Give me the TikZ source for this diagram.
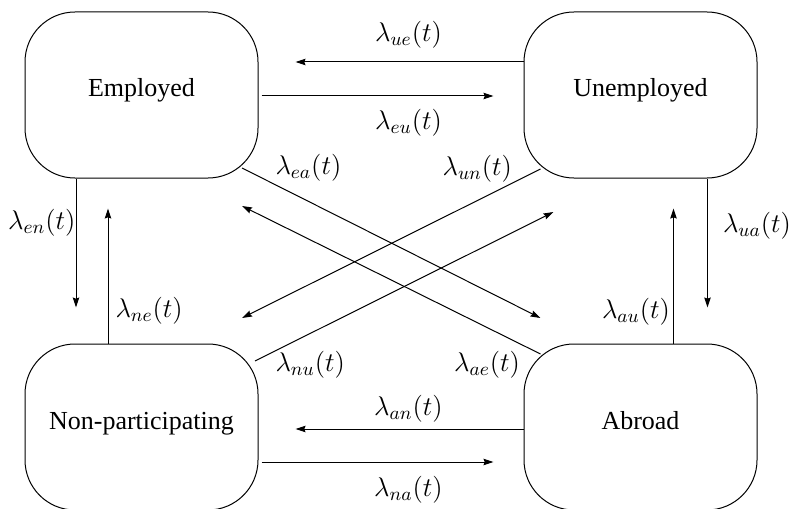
\documentclass[tikz,border=0pt]{standalone}
\usepackage{fix-cm}
\usepackage{fontspec}
\setmainfont{Liberation Serif}
\usepackage{tikz}
\usetikzlibrary{arrows.meta, positioning}
\tikzstyle{arrow} = [line width=0.5pt, -{Stealth[length=5pt, width=3.2pt, inset=0.6pt]}]

\begin{document}
\begin{tikzpicture}[
  x=0.5pt, y=-0.5pt,
  node distance=82.5pt and 132.5pt,
  state/.style={rectangle, draw=black, line width=0.5pt, rounded corners=25pt, minimum width=116.5pt, minimum height=83pt, text height=9pt, text depth=7pt, font=\fontsize{13}{15}\selectfont},
  rate/.style={inner sep=0pt, font=\fontsize{13.5}{16}\selectfont}
]
\useasboundingbox (0,0) rectangle (791,508);

% States
\node[state] (emp) at (141.5,95) {Employed};
\node[state, right=of emp] (unemp) {Unemployed};
\node[state, below=of emp] (nonp) {Non-participating};
\node[state, below=of unemp] (abr) {Abroad};

% Horizontal transitions
\draw[arrow, shorten >=18.5pt] ([yshift=16.5pt]unemp.west) -- ([yshift=16.5pt]emp.east) node[rate, pos=0.434, above=6.5pt] {$\lambda_{ue}(t)$};
\draw[arrow, shorten <=1.5pt, shorten >=15pt] ([yshift=-0.5pt]emp.east) -- ([yshift=-0.5pt]unemp.west) node[rate, pos=0.566, below=6.5pt] {$\lambda_{eu}(t)$};
\draw[arrow, shorten >=18.5pt] ([yshift=-1pt]abr.west) -- ([yshift=-1pt]nonp.east) node[rate, pos=0.434, above=3pt] {$\lambda_{an}(t)$};
\draw[arrow, shorten <=1.5pt, shorten >=15pt] ([yshift=-17.5pt]nonp.east) -- ([yshift=-17.5pt]abr.west) node[rate, pos=0.566, below=7pt] {$\lambda_{na}(t)$};

% Vertical transitions
\draw[arrow, shorten >=18pt] ([xshift=-32.75pt]emp.south) -- ([xshift=-32.75pt]nonp.north) node[rate, pos=0.27, left=0pt] {$\lambda_{en}(t)$};
\draw[arrow, shorten >=15pt] ([xshift=-16.75pt]nonp.north) -- ([xshift=-16.75pt]emp.south) node[rate, pos=0.2, right=3.5pt] {$\lambda_{ne}(t)$};
\draw[arrow, shorten >=18pt] ([xshift=33.5pt]unemp.south) -- ([xshift=33.5pt]abr.north) node[rate, pos=0.285, right=7.5pt] {$\lambda_{ua}(t)$};
\draw[arrow, shorten >=15pt] ([xshift=16.5pt]abr.north) -- ([xshift=16.5pt]unemp.south) node[rate, pos=0.19, left=1.5pt] {$\lambda_{au}(t)$};

% Diagonal transitions
\draw[arrow] ([shift={(100.5,73)}]emp.center) -- ([shift={(-100,-109)}]abr.center) node[rate, pos=0, right=16.5pt] {$\lambda_{ea}(t)$};
\draw[arrow] ([shift={(-100,-73)}]abr.center) -- ([shift={(100.5,111)}]emp.center) node[rate, pos=0, left=10pt, yshift=-5.5pt] {$\lambda_{ae}(t)$};
\draw[arrow] ([shift={(-100,74)}]unemp.center) -- ([shift={(100.5,-109)}]nonp.center) node[rate, pos=0, left=14pt] {$\lambda_{un}(t)$};
\draw[arrow] ([shift={(113.5,-66)}]nonp.center) -- ([shift={(-87,117)}]unemp.center) node[rate, pos=0, right=10pt, yshift=-2pt] {$\lambda_{nu}(t)$};

\end{tikzpicture}
\end{document}
